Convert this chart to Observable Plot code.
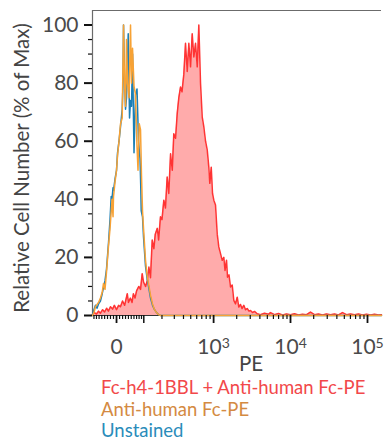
<!DOCTYPE html>
<html><head><meta charset="utf-8">
<script src="https://cdn.jsdelivr.net/npm/d3@7"></script>
<script src="https://cdn.jsdelivr.net/npm/@observablehq/plot@0.6"></script>
<style>
body{margin:0;background:#fff;font-family:Lato,"Open Sans",sans-serif;}
#legend{margin:1px 0 0 101px;font-size:18.5px;line-height:21.5px;white-space:nowrap;}
</style></head><body>
<div id="chart"></div>
<div id="legend"></div>
<script>
// ---- data (PE intensity, % of max) ----
const stainedPE = [-86,-78,-70,-62,-55,-47,-40,-33,-27,-20,-13,-7,0,7,13,20,27,36,40,47,53,58,64,70,79,86,93,99,108,116,124,132,141,150,158,170,178,190,200,213,225,238,251,266,281,295,312,329,346,365,382,404,426,449,472,497,523,550,579,610,640,674,709,744,784,825,866,892,931,968,1006,1059,1115,1169,1231,1295,1359,1409,1474,1518,1588,1661,1748,1834,1930,2031,2130,2241,2344,2474,2603,2739,2891,3024,3210,3408,3694,4078,4597,5181,5501,6200,6988,7876,8875,10003,11275,12710,14328,16148,18200,20515,23122,26065,29376,33110,37323,42070,47416,53444,60242,67898,76533,86273,97240,109604,123536,139244,152000];
const stainedPct = [0.3,1,0.5,1.5,0.8,2,1.2,2.5,1.5,3,2.2,3.5,2,3.5,3,5,3.5,7.5,4.5,6,4.5,7.5,6,8.5,10,9,14.4,11.5,10,12,16.7,13,26,23,28,30,26,34,33,39.7,37,47.7,42,55.7,50,62.6,61,69.6,75,78.7,77,83,93.7,84,93.7,85.6,97,89,93.7,85.6,100,79.9,68.4,65,60,57,51,45.5,51,42,39.7,38,28,23.6,21.3,19,20,15.5,19,13.2,14,9.8,10.5,5.2,4,6.3,2.9,3.8,2.4,3.5,2,2.4,1.5,1.7,1,1.4,0.6,0.3,0.8,0.4,1,0.3,0.7,0.2,0.5,0.3,0.6,0.2,0.4,0.3,1.2,0.3,0.5,0.2,0.5,0.3,0.5,0.2,1,0.3,0.5,0.3,0.5,0.2,0.4,0.2,0.4,0.2,0.3];

const isotypePE = [-86,-80,-74,-62,-55,-48.5,-44,-38.6,-33.4,-26.6,-21.5,-17.5,-14.9,-11.5,-9.9,-4.9,0,3.3,8.2,13.2,18.8,23.2,26.6,30,33.4,36.8,42.1,47.4,51,54.7,60.2,65.9,71.7,75.7,80.5,85.9,90.1,94.4,98.8,107.8,114.8,122.1,132.1,142.7,153.7,165.3,177.5,190.3,152000];
const isotypePct = [0,1,3,4.5,6,8,11,9,15,24,30,36,40,34,41,46,50,55,60,66,68,100,80,72,95,80,75,100,80,92,79,76,58,50,66,64,48,36,30,19,14,11,7,4,2,1,0.3,0,0];

const unstainedPE = [-86,-80,-74,-68,-62,-55,-48.5,-44,-38.6,-33.4,-26.6,-21.5,-17.5,-14.9,-11.5,-9.9,-4.9,0,3.3,8.2,13.2,18.8,21.5,23.2,26.6,30,33.4,39.3,43.9,47.4,51,54.7,60.2,65.9,71.7,77.7,83.8,86.7,88.8,94.4,98.8,107.8,114.8,122.1,132.1,142.7,153.7,165.3,177.5,190.3,152000];
const unstainedPct = [0,2,3.5,2.5,4,5,7.5,9.6,12,16,25,33,41,40,44,43,47,50,56,60,65,71,80,100,82,71,75,97,68,74,72,90,56,76,78,60,54,45,36,34,27,17,13,10,6,3.5,2,1,0.3,0,0];

const seriesNames = ["Fc-h4-1BBL + Anti-human Fc-PE", "Anti-human Fc-PE", "Unstained"];
const xMajorTicks = [0, 1e3, 1e4, 1e5];
const xMajorLabels = ["0", "10^3", "10^4", "10^5"];
const xMinorTicks = [-80,-70,-60,-50,-40,-30,-20,-10,10,20,30,40,50,60,70,80,90,200,300,400,500,600,700,800,900,2000,3000,4000,5000,6000,7000,8000,9000,20000,30000,40000,50000,60000,70000,80000,90000];
const xMidTicks = [100];
const yMajorTicks = [0, 20, 40, 60, 80, 100];
const yMinorTicks = [5,10,15,25,30,35,45,50,55,65,70,75,85,90,95];
const xTitle = "PE";
const yTitle = "Relative Cell Number (% of Max)";

// ---- styles ----
const lineColors = ["#ff3434", "#f7a235", "#1b7fb6"];
const legendColors = ["#f2484a", "#d48a42", "#2a8cba"];
const fillColor = "#ffabab";

// biexponential-like display transform
const C = 110;
const T = v => Math.asinh(v / C);
const xDomain = [T(-86), T(152000)];

const zip = (xs, ys) => xs.map((x, i) => ({pe: x, pct: ys[i]}));
const stained = zip(stainedPE, stainedPct);
const isotype = zip(isotypePE, isotypePct);
const unstained = zip(unstainedPE, unstainedPct);

const labelOf = new Map(xMajorTicks.map((v, i) => [T(v), xMajorLabels[i]]));

const plot = Plot.plot({
  width: 387,
  height: 376,
  marginLeft: 92,
  marginRight: 6,
  marginTop: 10,
  marginBottom: 61,
  style: {fontFamily: "Lato, 'Open Sans', sans-serif", background: "#fff"},
  x: {domain: xDomain},
  y: {domain: [0, 105]},
  marks: [
    Plot.areaY(stained, {x: d => T(d.pe), y: "pct", fill: fillColor, curve: "linear"}),
    Plot.ruleX([xDomain[0]], {stroke: "#6b6b6b", strokeWidth: 1.2}),
    Plot.ruleY([105], {stroke: "#6b6b6b", strokeWidth: 1.2}),
    Plot.ruleY([0], {stroke: "#333", strokeWidth: 1.2}),
    Plot.lineY(stained, {x: d => T(d.pe), y: "pct", stroke: lineColors[0], strokeWidth: 1.5, curve: "linear"}),
    Plot.lineY(unstained, {x: d => T(d.pe), y: "pct", stroke: lineColors[2], strokeWidth: 1.5, curve: "linear"}),
    Plot.lineY(isotype, {x: d => T(d.pe), y: "pct", stroke: lineColors[1], strokeWidth: 1.5, curve: "linear"}),
    Plot.axisY(yMajorTicks, {tickSize: 8, tickPadding: 6, strokeWidth: 2, stroke: "#111", fill: "#4a4a4a", fontSize: 21, label: null}),
    Plot.axisY(yMinorTicks, {tickSize: 4, strokeWidth: 1.2, stroke: "#111", tickFormat: () => "", label: null}),
    Plot.axisX(xMajorTicks.map(T), {tickSize: 8, tickPadding: 16, strokeWidth: 1.8, stroke: "#111", fill: "#4a4a4a", fontSize: 21, tickFormat: d => labelOf.get(d), label: null}),
    Plot.axisX(xMidTicks.map(T), {tickSize: 8, strokeWidth: 1.5, stroke: "#111", tickFormat: () => "", label: null}),
    Plot.axisX(xMinorTicks.map(T), {tickSize: 4, strokeWidth: 1.2, stroke: "#111", tickFormat: () => "", label: null}),
    Plot.text([yTitle], {frameAnchor: "left", rotate: -90, dx: -70, dy: 5, textAnchor: "middle", lineAnchor: "middle", fontSize: 20.5, fill: "#444"}),
    Plot.text([xTitle], {frameAnchor: "bottom", dx: 14, dy: 49, textAnchor: "middle", lineAnchor: "middle", fontSize: 20.5, fill: "#444"})
  ]
});

// superscript exponents on the x tick labels
d3.select(plot).selectAll('g[aria-label="x-axis tick label"] text').each(function () {
  const m = this.textContent.match(/^10\^(\d)$/);
  if (m) {
    const t = d3.select(this);
    t.text(null);
    t.append("tspan").text("10");
    t.append("tspan").attr("dy", "-0.45em").attr("font-size", "14px").text(m[1]);
  }
});

document.getElementById("chart").appendChild(plot);

const legend = d3.select("#legend");
seriesNames.forEach((name, i) => {
  legend.append("div").style("color", legendColors[i]).text(name);
});
</script>
</body></html>
